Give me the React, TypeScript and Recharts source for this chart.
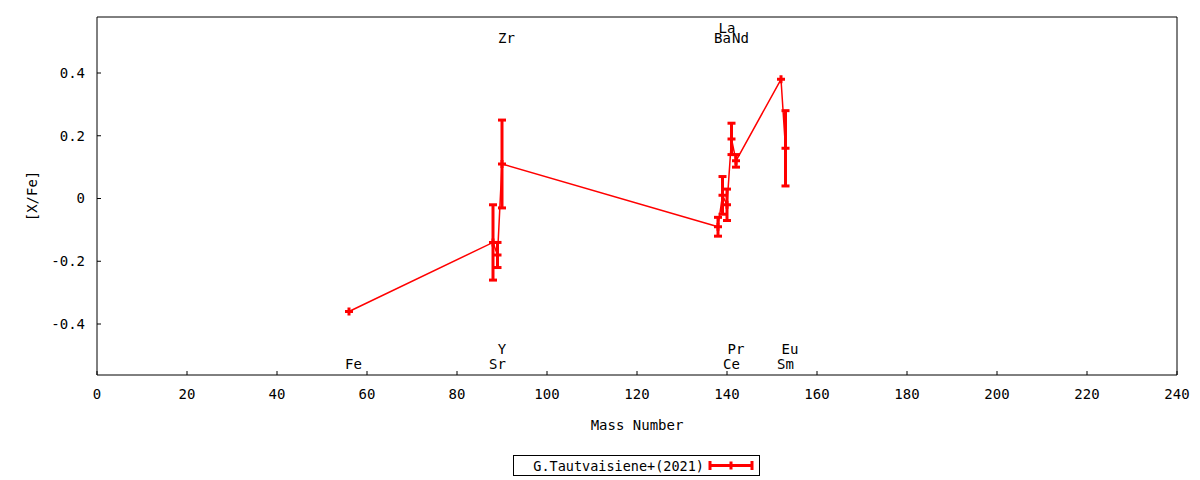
import { ComposedChart, Line, ErrorBar, Scatter, XAxis, YAxis } from "recharts";

const FONT = "'DejaVu Sans Mono', monospace";
const RED = "#ff0000";

// mass number of each element, [X/Fe] and its error
const elements = ["Fe", "Sr", "Y", "Zr", "Ba", "La", "Ce", "Pr", "Nd", "Sm", "Eu"];
const massNumbers = [56, 88, 89, 90, 138, 139, 140, 141, 142, 152, 153];
const xFe = [-0.36, -0.14, -0.18, 0.11, -0.09, 0.01, -0.02, 0.19, 0.12, 0.38, 0.16];
const xFeErr = [0, 0.12, 0.04, 0.14, 0.03, 0.06, 0.05, 0.05, 0.02, 0, 0.12];
// height at which each element name is written
const labelRows = [-0.527, -0.527, -0.48, 0.51, 0.51, 0.543, -0.527, -0.48, 0.51, -0.527, -0.48];

const xTicks = [0, 20, 40, 60, 80, 100, 120, 140, 160, 180, 200, 220, 240];
const yTicks = [-0.4, -0.2, 0, 0.2, 0.4];
const yDomain = [-0.5625, 0.5785];

const seriesName = "G.Tautvaisiene+(2021)";

const points = massNumbers.map((x, i) => ({ x, y: xFe[i], err: xFeErr[i] }));
const labels = elements.map((name, i) => ({ x: massNumbers[i], y: labelRows[i], name }));

const tickStyle = { fill: "#000", fontSize: 14, fontFamily: FONT };
const black = { stroke: "#000" };

function Plus(props: any) {
  const { cx, cy, index } = props;
  if (cx == null || cy == null) return null;
  return (
    <path
      key={`pt-${index}`}
      d={`M${cx - 4},${cy}H${cx + 4}M${cx},${cy - 4}V${cy + 4}`}
      stroke={RED}
      strokeWidth={3}
      fill="none"
    />
  );
}

function ElementName(props: any) {
  const { cx, cy, payload } = props;
  return (
    <text
      x={cx + 4.5}
      y={cy}
      textAnchor="middle"
      dominantBaseline="central"
      fontFamily={FONT}
      fontSize={14}
      fill="#000"
    >
      {payload.name}
    </text>
  );
}

function Legend() {
  return (
    <div
      style={{
        position: "absolute",
        left: 513,
        top: 455,
        width: 247,
        height: 21,
        boxSizing: "border-box",
        border: "1px solid #000",
        background: "#fff",
        display: "flex",
        alignItems: "center",
        justifyContent: "flex-end",
        fontFamily: FONT,
        fontSize: 13.5,
      }}
    >
      <span>{seriesName}</span>
      <svg width={55} height={19}>
        <path
          d="M6,9.5H48M6,5V14M48,5V14M27,5.5V13.5"
          stroke={RED}
          strokeWidth={3}
          fill="none"
        />
      </svg>
    </div>
  );
}

export default function App() {
  return (
    <div style={{ position: "absolute", left: 0, top: 0, width: 1200, height: 480, background: "#fff" }}>
      <ComposedChart
        width={1200}
        height={480}
        margin={{ top: 16, right: 22, bottom: 75, left: 0 }}
      >
        <XAxis
          dataKey="x"
          type="number"
          domain={[0, 240]}
          ticks={xTicks}
          height={30}
          tickSize={-4}
          tickMargin={18}
          tick={tickStyle}
          axisLine={black}
          tickLine={black}
          label={{
            content: ({ viewBox }: any) => (
              <text
                x={viewBox.x + viewBox.width / 2}
                y={viewBox.y + 50}
                textAnchor="middle"
                dominantBaseline="central"
                fontFamily={FONT}
                fontSize={14}
                fill="#000"
              >
                Mass Number
              </text>
            ),
          }}
        />
        <XAxis
          xAxisId="top"
          orientation="top"
          dataKey="x"
          type="number"
          domain={[0, 240]}
          ticks={xTicks}
          height={1}
          tickSize={-4}
          tick={false}
          axisLine={black}
          tickLine={black}
        />
        <YAxis
          type="number"
          domain={yDomain}
          ticks={yTicks}
          width={97}
          tickSize={-4}
          tickMargin={16}
          tick={tickStyle}
          tickFormatter={(v: number) => (v === 0 ? "0" : v.toFixed(1))}
          axisLine={black}
          tickLine={black}
          allowDataOverflow
          label={{
            content: ({ viewBox }: any) => {
              const x = viewBox.x + 32;
              const y = viewBox.y + viewBox.height / 2;
              return (
                <text
                  x={x}
                  y={y}
                  transform={`rotate(-90 ${x} ${y})`}
                  textAnchor="middle"
                  dominantBaseline="central"
                  fontFamily={FONT}
                  fontSize={14}
                  fill="#000"
                >
                  [X/Fe]
                </text>
              );
            },
          }}
        />
        <YAxis
          yAxisId="right"
          orientation="right"
          type="number"
          domain={yDomain}
          ticks={yTicks}
          width={1}
          tickSize={-4}
          tick={false}
          axisLine={black}
          tickLine={black}
          allowDataOverflow
        />
        <Line
          data={points}
          dataKey="y"
          type="linear"
          stroke={RED}
          strokeWidth={1.5}
          dot={Plus}
          activeDot={false}
          isAnimationActive={false}
        >
          <ErrorBar dataKey="err" width={4} strokeWidth={3} stroke={RED} isAnimationActive={false} />
        </Line>
        <Scatter
          data={labels}
          dataKey="y"
          shape={ElementName}
          isAnimationActive={false}
          legendType="none"
        />
      </ComposedChart>
      <Legend />
    </div>
  );
}
